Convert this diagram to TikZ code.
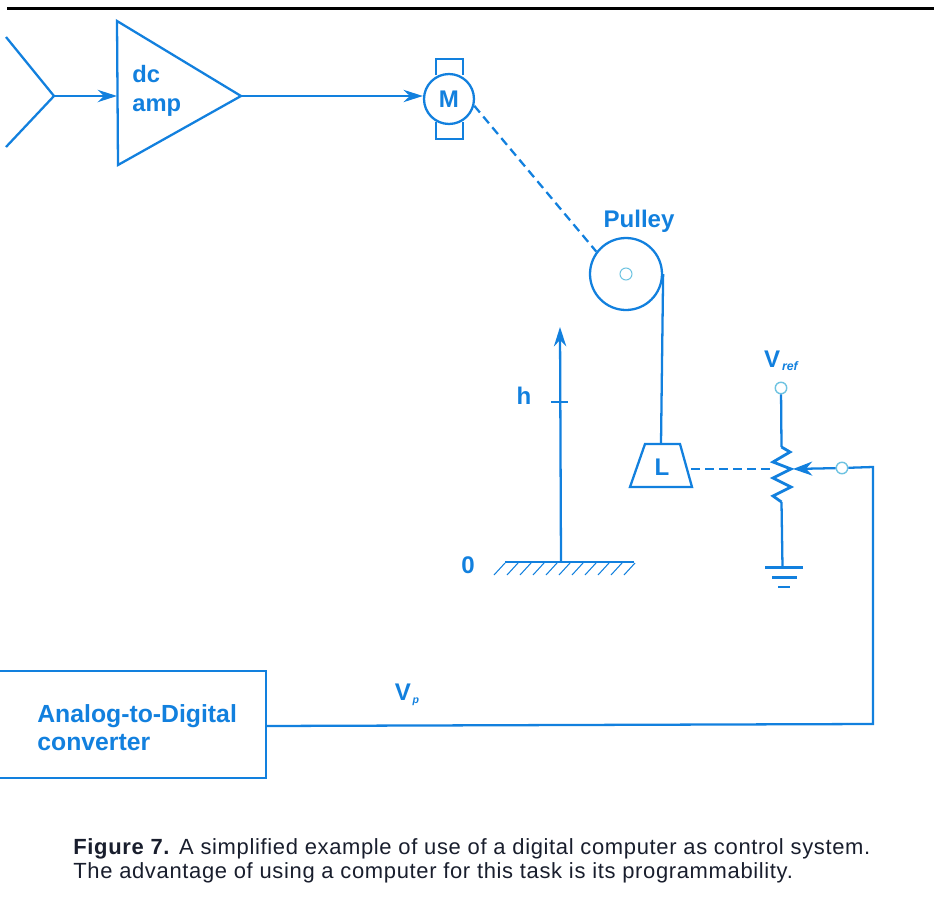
\documentclass[tikz,border=0pt]{standalone}
\usepackage{fontspec}
\setmainfont{Liberation Sans}
\newfontfamily\captionfont[LetterSpace=3]{Liberation Sans}
\usepackage{tikz}
\usetikzlibrary{arrows.meta,positioning,calc}
\definecolor{inkblue}{RGB}{18,128,222}
\definecolor{paleblue}{RGB}{110,195,225}
\definecolor{caption}{RGB}{25,30,45}
\begin{document}
\begin{tikzpicture}[x=0.02cm,y=-0.02cm,
  every node/.style={text=inkblue,font=\bfseries\fontsize{13.7}{16}\selectfont},
  wire/.style={draw=inkblue,line width=1.3pt},
  linkdash/.style={draw=inkblue,line width=1.3pt,dash pattern=on 5pt off 3pt},
  terminal/.style={circle,draw=paleblue,fill=white,line width=0.8pt,
    inner sep=0pt,minimum size=0.23cm}]
\useasboundingbox (0,0) rectangle (934,913);
\draw[black,line width=1.3pt] (7,8.5) -- (934,8.5);
% amplifier
\coordinate (Y1) at (6,37);
\coordinate (Y2) at (6,147);
\coordinate (YJ) at (54,96);
\coordinate (AmpIn) at (117,96);
\coordinate (AmpOut) at (241,96);
\draw[wire] (Y1) -- (YJ) -- (Y2);
\draw[wire,line join=miter] (117,21) -- (AmpOut) -- (118,165) -- cycle;
\node[align=left,anchor=west,inner sep=0pt,font=\bfseries\fontsize{13.5}{16.5}\selectfont] (AmpText) at (132,91) {dc\\amp};
\draw[wire,-{Stealth[length=11pt,width=7pt]}] (YJ) -- (AmpIn);
% motor
\draw[wire] (436,75) -- (436,59) -- (463,59) -- (463,75);
\draw[wire] (436,122) -- (436,139) -- (463,139) -- (463,122);
\node[circle,wire,fill=white,minimum size=1cm,inner sep=0pt] (M) at (449,99) {M};
\draw[wire,-{Stealth[length=11pt,width=7pt]}] (AmpOut) -- (M.west |- AmpOut);
% pulley
\node[circle,wire,minimum size=1.44cm,inner sep=0pt] (P) at (626,274) {};
\node[circle,draw=paleblue,line width=0.6pt,minimum size=0.24cm,inner sep=0pt] (Axle) at (626,274) {};
\node (PulleyText) at (639,221) {Pulley};
\draw[linkdash] (M.-15) -- (P.143);
% load
\coordinate (LTop) at (661,444);
\draw[wire,line join=miter] (645,444) -- (680,444) -- (692,487) -- (630,487) -- cycle;
\node (L) at (662,467) {L};
\draw[wire] (P.east) -- (LTop);
% height scale
\coordinate (H0) at (561,562);
\coordinate (HTop) at (560,327);
\node (HText) at (524,396) {h};
\node (ZeroText) at (468,565) {0};
\draw[wire,-{Stealth[length=11pt,width=7pt]}] (H0) -- (HTop);
\draw[draw=inkblue,line width=0.7pt] (551,402) -- (568,402);
\draw[wire] (505,562) -- (634,562);
\foreach \hx in {505,518,...,635}
  \draw[draw=inkblue,line width=0.6pt] (\hx,563) -- (\hx-11,575);
% potentiometer
\node[terminal] (VrefT) at (781,388) {};
\node (VrefText) at (781,361) {V\raisebox{-2pt}{\kern1pt\fontsize{7}{8}\selectfont\itshape ref}};
\coordinate (RTop) at (781.5,447);
\coordinate (RBot) at (781.5,502);
\coordinate (RWiper) at (793,469);
\coordinate (G) at (782.5,567);
\draw[wire] (VrefT) -- (RTop);
\draw[draw=inkblue,line width=1.6pt,line join=miter] (RTop) -- (790,452) -- (773,462) -- (791,469)
  -- (773,478) -- (791,487) -- (773,496) -- (RBot);
\draw[wire] (RBot) -- (G);
\draw[draw=inkblue,line width=1.6pt] (765,567.5) -- (803,567.5);
\draw[draw=inkblue,line width=1.6pt] (772,577.5) -- (797,577.5);
\draw[draw=inkblue,line width=1.6pt] (778,587) -- (790,587);
\draw[linkdash] (691,469) -- (771,469);
\node[terminal] (Wiper) at (842,468) {};
\draw[wire,-{Stealth[length=11pt,width=8pt]}] (Wiper) -- (RWiper);
% converter
\node[anchor=west,align=left,inner sep=0pt,font=\bfseries\fontsize{14.1}{16}\selectfont] (ADCText) at (37,728) {Analog-to-Digital\\converter};
\coordinate (ADC) at (266,726);
\draw[wire] (0,671) -- (266,671) -- (266,778) -- (0,778);
\draw[wire] (Wiper) -- (873,467) -- (873,724) -- (ADC);
\node (VpText) at (407,695) {V\raisebox{-2pt}{\kern1pt\fontsize{6}{7}\selectfont\itshape p}};
% caption
\node[anchor=north west,align=left,inner sep=0pt,text=caption,font=\captionfont\fontsize{12.5}{13.7}\selectfont] (Caption) at (73,838.5)
  {\textbf{Figure 7.} A simplified example of use of a digital computer as control system.\\
   The advantage of using a computer for this task is its programmability.};
\end{tikzpicture}
\end{document}
